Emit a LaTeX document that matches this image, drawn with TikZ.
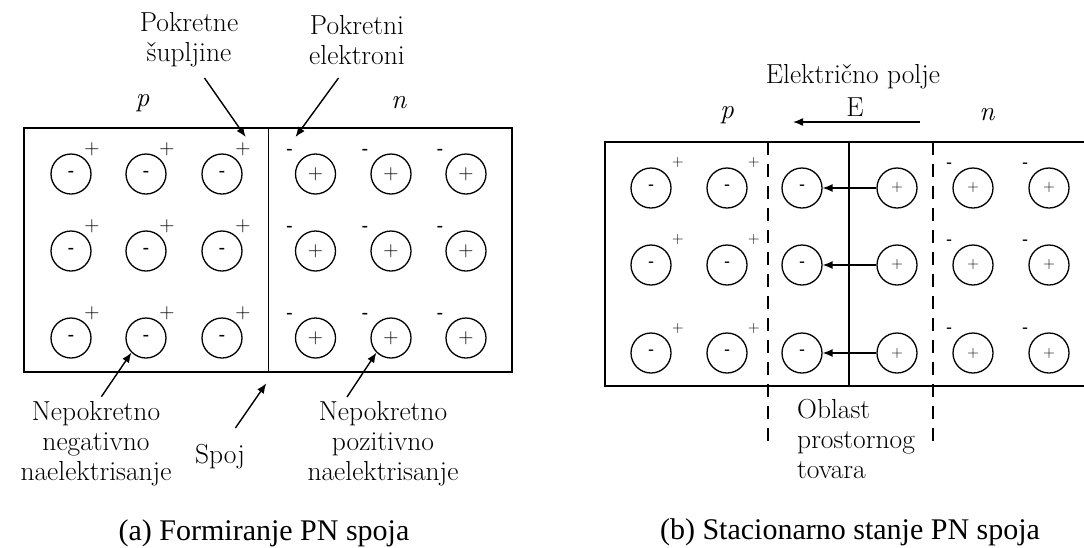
\documentclass[tikz,border=0pt]{standalone}
\usepackage{fontspec}
\newfontfamily\capfont{Liberation Serif}[Ligatures=TeX]
\newfontfamily\sgnfont{Liberation Sans}
\usetikzlibrary{arrows.meta}
\newcommand\mySgnMinA{{\sgnfont\fontsize{20}{20}\selectfont -}}
\newcommand\mySgnMinB{{\sgnfont\fontsize{18}{18}\selectfont -}}
\newcommand\mySgnPlusA{{\fontsize{21}{21}\selectfont +}}
\newcommand\mySgnPlusB{{\fontsize{16}{16}\selectfont +}}
\begin{document}
\begin{tikzpicture}[x=1pt,y=-1pt,
  ion/.style={circle,draw,line width=1.3pt,minimum size=40pt,inner sep=0pt},
  sgn/.style={inner sep=0pt},
  box/.style={line width=1.6pt},
  lbl/.style={font=\fontsize{27.5}{30}\selectfont,align=center,inner sep=0pt},
  ilbl/.style={font=\fontsize{27.5}{30}\selectfont\itshape,inner sep=0pt},
  ptr/.style={line width=1.4pt,-{Latex[length=10pt,width=8pt]}},
  dashln/.style={line width=1.5pt,dash pattern=on 13pt off 9pt},
  captext/.style={font=\capfont\fontsize{30}{34}\selectfont,inner sep=0pt}]
\useasboundingbox (0,0) rectangle (1084,547);

% ---------------- (a) ----------------
\draw[box] (24,128) rectangle (512,372);
\draw[box] (268.5,128) -- (268.5,372);

\foreach \c [count=\i] in {71,146,222} {
  \foreach \r [count=\j] in {174,251,338} {
    \node[ion] (Lp\j\i) at (\c,\r) {\mySgnMinA};
    \node[sgn] (Lps\j\i) at (\c+21,\r-25) {\mySgnPlusA};
  }
}
\foreach \c [count=\i] in {315.5,391,466} {
  \foreach \r [count=\j] in {174,251,338} {
    \node[ion] (Ln\j\i) at (\c,\r) {\mySgnPlusA};
    \node[sgn] (Lns\j\i) at (\c-26,\r-22) {\mySgnMinA};
  }
}

\node[ilbl] (pa) at (142.6,103) {p};
\node[ilbl] (na) at (398.6,103) {n};

\node[lbl] (holes) at (189,40) {Pokretne\\šupljine};
\node[lbl] (elec) at (357,40) {Pokretni\\elektroni};
\coordinate (hs) at (204.5,78);
\coordinate (ht) at (245.7,137);
\coordinate (es) at (338.5,78);
\coordinate (et) at (295.5,137);
\draw[ptr] (hs) -- (ht);
\draw[ptr] (es) -- (et);

\node[lbl] (negl) at (96,444) {Nepokretno\\negativno\\naelektrisanje};
\node[lbl] (spoj) at (220,457) {Spoj};
\node[lbl] (posl) at (383,444) {Nepokretno\\pozitivno\\naelektrisanje};
\coordinate (ns) at (101.4,396.7);
\coordinate (ps) at (347,397);
\coordinate (ss) at (235.4,428);
\coordinate (st) at (266.3,383.3);
\draw[ptr] (ns) -- (Lp32.south west);
\draw[ptr] (ps) -- (Ln32.south west);
\draw[ptr] (ss) -- (st);

\node[captext] (capa) at (264,533) {(a) Formiranje PN spoja};

% ---------------- (b) ----------------
\draw[box] (1090,142) -- (605,142) -- (605,386) -- (1090,386);
\draw[box] (849,142) -- (849,386);
\draw[dashln] (768,142) -- (768,442);
\draw[dashln] (933,142) -- (933,442);

\foreach \r [count=\j] in {188,265,353} {
  \foreach \c [count=\i] in {651,727} {
    \node[ion] (R\i-\j) at (\c,\r) {\mySgnMinB};
    \node[sgn] (Rs\i-\j) at (\c+27,\r-25) {\mySgnPlusB};
  }
  \node[ion] (R3-\j) at (802,\r) {\mySgnMinB};
  \node[ion] (R4-\j) at (897,\r) {\mySgnPlusB};
  \foreach \c [count=\i from 5] in {973,1049} {
    \node[ion] (R\i-\j) at (\c,\r) {\mySgnPlusB};
    \node[sgn] (Rs\i-\j) at (\c-24,\r-22) {\mySgnMinB};
  }
  \draw[ptr] (R4-\j.west) -- (R3-\j.east);
}

\node[ilbl] (pb) at (727,115) {p};
\node[ilbl] (nb) at (987,115) {n};
\node[lbl] (field) at (853,77) {Električno polje};
\node[lbl] (elbl) at (855,107) {E};
\coordinate (fs) at (920,122);
\coordinate (ft) at (793,122);
\draw[ptr] (fs) -- (ft);

\node[lbl,align=left,anchor=west] (oblast) at (797,439) {Oblast\\prostornog\\tovara};

\node[captext] (capb) at (850,532) {(b) Stacionarno stanje PN spoja};
\end{tikzpicture}
\end{document}
